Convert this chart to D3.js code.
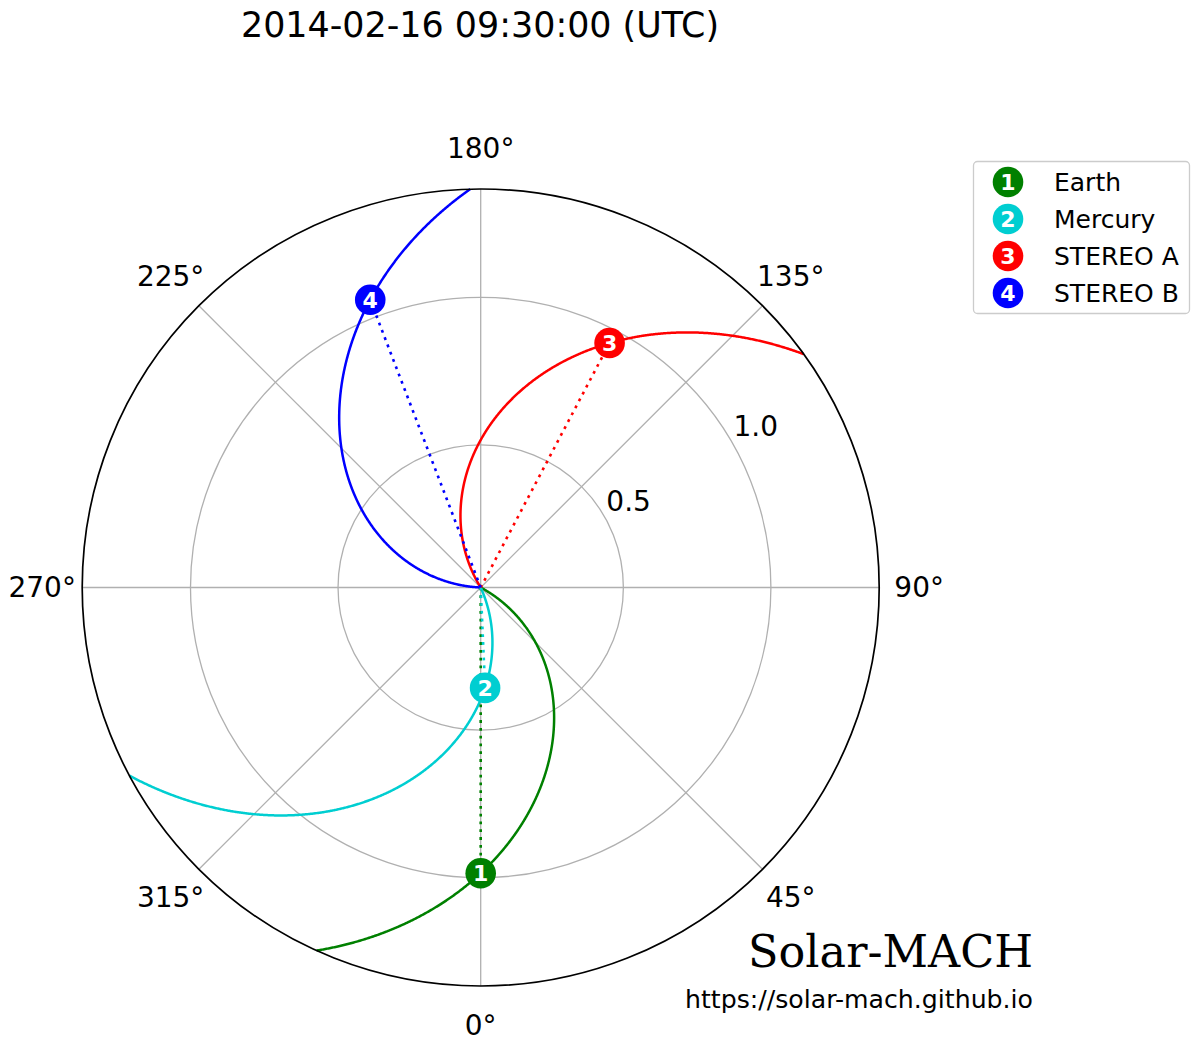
<!DOCTYPE html>
<html>
<head>
<meta charset="utf-8">
<script src="https://cdn.jsdelivr.net/npm/d3@7"></script>
<style>
  html, body { margin: 0; padding: 0; background: #fff; }
  svg { display: block; }
  text { font-family: "DejaVu Sans", sans-serif; }
</style>
</head>
<body>
<svg id="chart" width="1200" height="1041"></svg>
<script>
// ---------------- data ----------------
const titleText = "2014-02-16 09:30:00 (UTC)";
const bodyNames = ["Earth", "Mercury", "STEREO A", "STEREO B"];
const bodyLongitudes = [0.0, 2.5, 152.2, 201.0];   // deg (Stonyhurst)
const bodyDistances = [0.985, 0.357, 0.953, 1.061]; // AU
const bodyVsw = [400, 400, 400, 400];               // km/s
const bodyColors = ["#008000", "#00ced1", "#ff0000", "#0000ff"];
const angleTicks = [0, 45, 90, 135, 180, 225, 270, 315];
const angleTickLabels = ["0°", "45°", "90°", "135°", "180°", "225°", "270°", "315°"];
const radialTicks = [0.5, 1.0];
const radialTickLabels = ["0.5", "1.0"];
const rMin = 0.0165, rMax = 1.367;

// ---------------- layout ----------------
const cx = 480.7, cy = 587.5, R = 398.5;
const svg = d3.select("#chart");
const g = svg.append("g").attr("transform", `translate(${cx},${cy})`);

const rScale = d3.scaleLinear().domain([rMin, rMax]).range([0, R]).clamp(true);
// plot angle: 0 at bottom, counter-clockwise; d3 radial angle: 0 at top, clockwise
const toD3Angle = deg => Math.PI - deg * Math.PI / 180;
const pt = (deg, rpx) => {
  const a = toD3Angle(deg);
  return [rpx * Math.sin(a), -rpx * Math.cos(a)];
};

// grid
const grid = g.append("g");
grid.selectAll("circle.ring").data(radialTicks).join("circle")
  .attr("r", d => rScale(d)).attr("fill", "none")
  .attr("stroke", "#b0b0b0").attr("stroke-width", 1.3);
grid.selectAll("line.spoke").data(angleTicks).join("line")
  .attr("x1", 0).attr("y1", 0)
  .attr("x2", d => pt(d, R)[0]).attr("y2", d => pt(d, R)[1])
  .attr("stroke", "#b0b0b0").attr("stroke-width", 1.3);

// radial tick labels
g.selectAll("text.rlab").data(radialTicks).join("text")
  .attr("x", d => pt(120.5, rScale(d) + 29)[0])
  .attr("y", d => pt(120.5, rScale(d) + 29)[1] + 1)
  .attr("text-anchor", "middle").attr("dominant-baseline", "central")
  .attr("font-size", 28).attr("fill", "#000")
  .text((d, i) => radialTickLabels[i]);

// angle tick labels
g.selectAll("text.tlab").data(angleTicks).join("text")
  .attr("x", d => pt(d, 438.5)[0])
  .attr("y", d => pt(d, 438.5)[1] - 0.5)
  .attr("text-anchor", "middle").attr("dominant-baseline", "central")
  .attr("font-size", 28).attr("fill", "#000")
  .text((d, i) => angleTickLabels[i]);

// Parker spirals
const AU = 1.495978707e8; // km
const omega = 2 * Math.PI / (24.47 * 24 * 3600); // rad/s (equatorial sidereal)
const radial = d3.lineRadial()
  .angle(d => toD3Angle(d[0]))
  .radius(d => rScale(d[1]));

bodyNames.forEach((name, i) => {
  const k = omega * AU / bodyVsw[i] * 180 / Math.PI; // deg per AU
  const rs = d3.range(0, rMax, 0.002).concat([rMax]);
  const pts = rs.map(r => [bodyLongitudes[i] + (bodyDistances[i] - r) * k, r]);
  g.append("path").attr("d", radial(pts))
    .attr("fill", "none").attr("stroke", bodyColors[i]).attr("stroke-width", 2.5);
});

// dotted radial connectors
bodyNames.forEach((name, i) => {
  g.append("path")
    .attr("d", radial([[bodyLongitudes[i], 0], [bodyLongitudes[i], bodyDistances[i]]]))
    .attr("fill", "none").attr("stroke", bodyColors[i]).attr("stroke-width", 2.6)
    .attr("stroke-dasharray", "2.8,5");
});

// outer spine
g.append("circle").attr("r", R).attr("fill", "none")
  .attr("stroke", "#000").attr("stroke-width", 1.7);

// markers
bodyNames.forEach((name, i) => {
  const [x, y] = pt(bodyLongitudes[i], rScale(bodyDistances[i]));
  g.append("circle").attr("cx", x).attr("cy", y).attr("r", 15.3)
    .attr("fill", bodyColors[i]);
  g.append("text").attr("x", x).attr("y", y + 0.5)
    .attr("text-anchor", "middle").attr("dominant-baseline", "central")
    .attr("font-size", 22).attr("font-weight", "bold").attr("fill", "#fff")
    .text(i + 1);
});

// title
svg.append("text").attr("x", 480).attr("y", 37)
  .attr("text-anchor", "middle").attr("font-size", 34.9).attr("fill", "#000")
  .text(titleText);

// legend
const lg = svg.append("g");
lg.append("rect").attr("x", 973.5).attr("y", 161.5).attr("width", 216).attr("height", 152)
  .attr("rx", 4).attr("fill", "#fff").attr("stroke", "#cccccc").attr("stroke-width", 1.3);
bodyNames.forEach((name, i) => {
  const y = 182 + i * 37;
  lg.append("circle").attr("cx", 1008).attr("cy", y).attr("r", 15.3).attr("fill", bodyColors[i]);
  lg.append("text").attr("x", 1008).attr("y", y + 0.5)
    .attr("text-anchor", "middle").attr("dominant-baseline", "central")
    .attr("font-size", 22).attr("font-weight", "bold").attr("fill", "#fff").text(i + 1);
  lg.append("text").attr("x", 1054).attr("y", y)
    .attr("dominant-baseline", "central").attr("font-size", 25).attr("fill", "#000")
    .text(name);
});

// watermark
svg.append("text").attr("x", 1033).attr("y", 967)
  .attr("text-anchor", "end").attr("font-size", 44.5)
  .style("font-family", '"DejaVu Serif", serif').attr("fill", "#000")
  .text("Solar-MACH");
svg.append("text").attr("x", 1033).attr("y", 1008)
  .attr("text-anchor", "end").attr("font-size", 25.2).attr("fill", "#000")
  .text("https://solar-mach.github.io");
</script>
</body>
</html>
